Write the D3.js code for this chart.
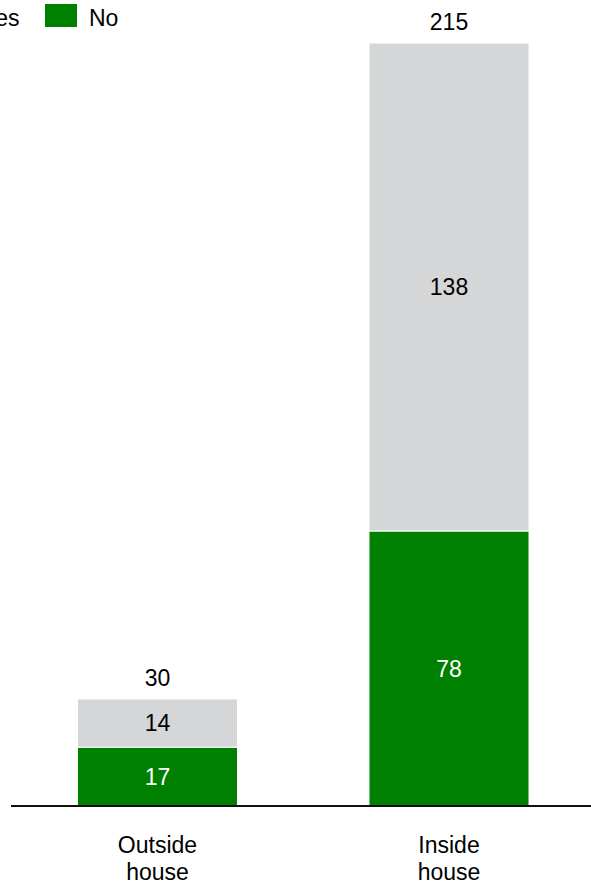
<!DOCTYPE html>
<html>
<head>
<meta charset="utf-8">
<script src="https://cdn.jsdelivr.net/npm/d3@7"></script>
<style>
  html, body { margin: 0; padding: 0; background: #fff; }
  svg { display: block; }
  text { font-family: "Liberation Sans", Arial, sans-serif; }
</style>
</head>
<body>
<svg id="chart" width="591" height="882"></svg>
<script>
const categories = [["Outside", "house"], ["Inside", "house"]];
const categoryKeys = ["Outside house", "Inside house"];
const seriesNames = ["Yes", "No"];
const noValues = [16.6, 77.6];
const yesValues = [13.6, 137.7];
const noLabels = ["17", "78"];
const yesLabels = ["14", "138"];
const totalLabels = ["30", "215"];
const colors = { Yes: "#d5d6d8", No: "#008000" };

(function () {
const svg = d3.select("#chart");
const W = 591;
const baseY = 806, topY = 43;
const FS = 23;

const rows = categoryKeys.map((k, i) => ({ cat: k, No: noValues[i], Yes: yesValues[i] }));
const stack = d3.stack().keys(["No", "Yes"])(rows);

const x = d3.scaleBand().domain(categoryKeys).range([11.75, 594.75]).paddingInner(0.451).paddingOuter(0.2255);
const yMax = d3.max(rows, d => d.No + d.Yes);
const y = d3.scaleLinear().domain([0, yMax]).range([baseY, topY]);

const g = svg.append("g");
stack.forEach(layer => {
  const key = layer.key;
  g.selectAll(null).data(layer).enter().append("rect")
    .attr("x", d => x(d.data.cat))
    .attr("width", x.bandwidth())
    .attr("y", d => y(d[1]))
    .attr("height", d => y(d[0]) - y(d[1]))
    .attr("fill", colors[key])
    .attr("stroke", "#fff")
    .attr("stroke-width", 1);
  const labels = key === "No" ? noLabels : yesLabels;
  g.selectAll(null).data(layer).enter().append("text")
    .attr("x", d => x(d.data.cat) + x.bandwidth() / 2)
    .attr("y", d => (y(d[0]) + y(d[1])) / 2)
    .attr("dy", "0.35em")
    .attr("text-anchor", "middle")
    .attr("font-size", FS)
    .attr("fill", key === "No" ? "#fff" : "#000")
    .text((d, i) => labels[i]);
});

// totals
g.selectAll(null).data(rows).enter().append("text")
  .attr("x", d => x(d.cat) + x.bandwidth() / 2)
  .attr("y", d => y(d.No + d.Yes) - 21)
  .attr("dy", "0.35em")
  .attr("text-anchor", "middle")
  .attr("font-size", FS)
  .attr("fill", "#000")
  .text((d, i) => totalLabels[i]);

// axis baseline
const xAxis = d3.axisBottom(x).tickSize(0).tickFormat("");
const ax = svg.append("g").attr("transform", `translate(0,${baseY})`).call(xAxis);
ax.select(".domain").attr("stroke", "#111").attr("stroke-width", 2).attr("d", `M11,0H${W}`);

// category labels
categoryKeys.forEach((k, i) => {
  const t = svg.append("text")
    .attr("x", x(k) + x.bandwidth() / 2)
    .attr("y", 853)
    .attr("text-anchor", "middle")
    .attr("font-size", FS)
    .attr("fill", "#000");
  categories[i].forEach((line, j) => {
    t.append("tspan").attr("x", x(k) + x.bandwidth() / 2).attr("dy", j === 0 ? 0 : 27).text(line);
  });
});

// legend (partially off-canvas to the left, as in reference)
const legend = svg.append("g").attr("transform", "translate(-62,0)");
seriesNames.forEach((s, i) => {
  const lg = legend.append("g").attr("transform", `translate(${i * 107},0)`);
  lg.append("rect").attr("x", 0).attr("y", 4).attr("width", 32).attr("height", 23).attr("fill", colors[s]);
  lg.append("text").attr("x", 44).attr("y", 17.5).attr("dy", "0.35em")
    .attr("font-size", FS).attr("fill", "#000").text(s);
});
})();
</script>
</body>
</html>
